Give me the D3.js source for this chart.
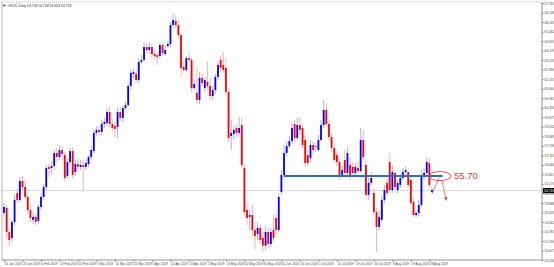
<!DOCTYPE html>
<html>
<head>
<meta charset="utf-8">
<script src="https://cdn.jsdelivr.net/npm/d3@7"></script>
<style>
  html, body { margin: 0; padding: 0; background: #fff; }
  svg { display: block; font-family: "Liberation Sans", Arial, sans-serif; }
</style>
</head>
<body>
<svg id="chart" width="554" height="267"></svg>
<script>
// USOIL daily candles, [open, high, low, close]
const candles = [
  [53.21,53.89,53.00,53.62],[53.55,53.75,51.52,51.92],[51.92,52.20,50.97,51.38],[51.52,52.74,51.24,52.60],
  [52.60,54.42,52.40,54.09],[54.56,54.90,53.89,54.09],[54.09,55.64,53.89,55.37],[55.37,55.71,54.76,54.96],
  [54.96,55.44,54.09,54.29],[54.29,54.56,53.14,53.41],[53.41,53.75,52.60,52.87],[52.74,53.27,52.47,52.94],
  [52.94,53.14,52.33,52.60],[52.67,53.82,52.47,53.62],[53.62,54.49,53.41,54.29],[54.29,55.17,54.09,54.96],
  [54.96,56.45,54.76,56.25],[56.32,56.52,55.64,56.18],[56.25,56.65,55.84,56.38],[56.38,57.46,56.11,57.26],
  [57.26,57.60,56.65,56.99],[56.99,57.80,56.79,57.46],[57.46,57.73,56.79,57.19],[57.12,57.33,55.37,55.57],
  [55.71,56.92,55.51,56.65],[56.65,57.60,56.45,57.39],[57.39,57.67,55.57,55.78],[55.98,56.79,55.71,56.52],
  [56.52,56.92,55.98,56.32],[56.32,56.79,56.11,56.45],[56.45,56.79,54.69,56.32],[56.32,56.86,56.11,56.58],
  [56.52,57.12,56.32,56.99],[56.99,57.73,56.79,57.46],[57.39,58.82,57.26,58.62],[58.62,59.09,58.41,58.82],
  [58.82,59.15,58.48,58.68],[58.68,59.49,58.48,59.22],[59.22,59.63,58.95,59.36],[59.29,60.30,59.09,60.03],
  [60.03,60.43,58.95,59.22],[59.22,59.49,58.68,58.95],[59.09,59.36,58.28,58.88],[59.02,60.30,58.28,60.03],
  [60.03,60.37,59.42,59.63],[59.63,60.50,59.36,60.30],[60.30,60.70,60.17,60.50],[60.50,61.99,60.37,61.79],
  [61.79,62.87,61.52,62.67],[62.60,62.94,62.33,62.73],[62.60,62.87,61.99,62.19],[62.19,63.68,61.92,63.41],
  [63.41,63.88,63.28,63.55],[63.55,64.69,63.41,64.42],[64.42,64.69,64.02,64.22],[64.22,64.76,63.95,64.42],
  [64.42,64.63,63.68,63.95],[63.95,64.22,63.55,63.82],[63.88,64.09,63.21,63.75],[63.82,64.69,63.68,64.56],
  [64.56,64.69,63.82,64.02],[63.95,64.49,63.82,64.22],[64.49,64.83,64.36,64.63],[64.63,66.11,64.42,65.91],
  [65.91,66.72,65.77,66.25],[66.18,66.58,65.71,65.91],[65.91,66.25,65.03,65.23],[65.23,65.37,62.40,63.01],
  [63.08,63.41,62.67,62.87],[62.87,63.82,62.73,63.68],[63.68,64.09,63.41,63.55],[63.55,63.68,61.38,61.65],
  [61.65,62.19,61.52,61.92],[61.32,63.01,60.57,60.84],[60.84,62.74,60.57,62.33],[62.33,62.60,61.79,61.99],
  [61.65,62.40,61.38,62.19],[62.06,63.41,61.52,61.79],[61.79,62.33,60.84,61.11],[61.11,61.79,60.84,61.52],
  [61.52,62.60,61.25,62.40],[62.40,63.41,62.19,63.21],[63.55,63.88,62.73,63.01],[63.21,64.09,62.67,62.87],
  [63.01,63.68,61.18,61.38],[61.38,61.65,58.01,58.28],[58.41,59.49,57.46,58.62],[58.55,59.09,58.14,58.82],
  [58.95,59.15,58.34,58.62],[58.62,59.69,58.41,58.95],[59.15,59.69,56.25,56.45],[56.25,56.45,53.00,53.27],
  [53.41,53.75,52.40,52.87],[52.94,53.41,52.06,53.07],[53.07,53.75,51.65,52.06],[52.06,52.40,50.71,51.65],
  [51.79,52.60,51.38,52.20],[52.20,52.47,51.11,51.38],[51.52,51.92,50.57,51.00],[51.00,52.33,50.71,51.92],
  [51.92,52.20,50.84,51.11],[51.11,52.20,50.91,51.92],[52.06,53.07,51.24,51.52],[52.87,53.14,51.79,52.06],
  [52.06,54.49,51.92,54.29],[54.63,56.11,54.43,55.78],[55.78,57.80,55.57,57.26],[57.26,58.07,57.06,57.73],
  [57.73,58.41,57.60,58.07],[58.07,59.36,57.87,58.95],[59.22,59.49,58.01,58.28],[58.28,59.63,58.14,59.15],
  [59.15,59.69,58.48,58.82],[58.95,59.22,57.60,57.80],[58.14,58.48,56.32,56.58],[57.12,57.46,56.38,56.58],
  [56.92,58.14,56.65,57.80],[57.80,58.01,57.19,57.46],[57.73,57.94,57.33,57.67],[57.46,58.48,57.33,58.14],
  [58.14,59.49,58.01,59.15],[59.15,60.84,58.95,60.17],[60.17,60.64,59.02,59.22],[59.22,59.49,58.14,58.34],
  [58.34,58.62,57.33,57.60],[57.60,57.80,56.58,56.79],[57.12,57.46,56.38,56.65],[56.65,56.92,55.44,55.78],
  [55.78,56.38,55.57,56.11],[56.79,57.46,55.71,55.91],[55.91,57.67,55.71,57.26],[56.45,56.92,55.44,55.78],
  [56.32,56.65,55.57,55.91],[55.91,56.58,55.71,56.32],[56.25,56.65,55.84,56.04],[56.04,58.95,55.91,58.14],
  [58.14,58.82,56.79,56.99],[56.45,56.79,54.22,54.43],[54.43,55.57,54.09,55.24],[55.24,55.98,55.04,55.57],
  [54.56,54.90,53.07,53.27],[53.27,53.55,50.57,52.26],[52.26,53.41,52.06,52.94],[52.74,54.43,52.60,54.09],
  [54.09,55.10,53.89,54.76],[55.24,55.57,54.36,54.56],[56.65,57.26,54.56,54.76],[54.76,56.45,54.56,55.98],
  [55.91,56.11,54.76,54.96],[54.76,55.44,54.56,55.24],[55.10,55.84,54.90,55.57],[55.57,56.25,55.44,55.98],
  [55.98,56.38,55.84,56.11],[55.98,56.25,54.90,55.10],[55.44,55.71,53.75,53.89],[53.95,54.22,52.94,53.07],
  [53.07,53.41,52.94,53.21],[53.21,54.09,53.00,53.75],[53.75,56.11,53.62,55.64],[55.64,56.25,55.44,55.91],
  [55.91,56.99,55.78,56.65],[56.58,56.92,54.90,55.10],[54.63,54.90,54.56,54.76]
];

const dateLabels = [
  '15 Jan 2019','24 Jan 2019','4 Feb 2019','13 Feb 2019','22 Feb 2019','5 Mar 2019',
  '14 Mar 2019','25 Mar 2019','3 Apr 2019','12 Apr 2019','23 Apr 2019','2 May 2019',
  '13 May 2019','22 May 2019','31 May 2019','11 Jun 2019','20 Jun 2019','1 Jul 2019',
  '10 Jul 2019','19 Jul 2019','30 Jul 2019','8 Aug 2019','19 Aug 2019','28 Aug 2019'
];
const dateEvery = 7;

const priceTicks = [
  50.030,50.673,51.316,51.959,52.602,53.245,53.888,54.531,55.174,55.817,56.460,57.103,57.746,58.389,
  59.032,59.675,60.318,60.961,61.604,62.247,62.890,63.533,64.176,64.819,65.462,66.105,66.748,67.391
];

const bidPrice = 54.718;
const header = 'USOIL,Daily  54.708 54.768 54.603 54.718';
const levelPrice = 55.70;
const levelFrom = 106;      // bar index where the drawn level starts
const levelTo = 166;
const markIdx = 165;        // ellipse centre (bar index)

const svg = d3.select('#chart');
const plotL = 2, plotR = 542, plotT = 2, plotB = 260;

const x = d3.scaleLinear().domain([0, candles.length - 1]).range([4, 432]);
const y = d3.scaleLinear().domain([50.03, 67.6]).range([plotB, 0]);

// frame
svg.append('line').attr('x1', plotL).attr('x2', plotR).attr('y1', plotT).attr('y2', plotT)
  .attr('stroke', '#999').attr('stroke-width', 0.7).attr('stroke-dasharray', '1,1');
svg.append('line').attr('x1', plotL).attr('x2', plotL).attr('y1', plotT).attr('y2', plotB)
  .attr('stroke', '#999').attr('stroke-width', 0.7);

// bid line
svg.append('line').attr('x1', plotL).attr('x2', plotR).attr('y1', y(bidPrice)).attr('y2', y(bidPrice))
  .attr('stroke', '#c8c8c8').attr('stroke-width', 0.7);

// axes
const yAxis = svg.append('g').attr('transform', `translate(${plotR},0)`)
  .call(d3.axisRight(y).tickValues(priceTicks).tickSize(1.5).tickPadding(1).tickFormat(d3.format('.3f')));
yAxis.select('.domain').attr('stroke', '#777').attr('stroke-width', 0.8).attr('d', `M0,${plotT}V${plotB}`);
yAxis.selectAll('text').attr('font-size', 3.4).attr('fill', '#444');
yAxis.selectAll('.tick line').attr('stroke', '#777');

const xAxis = svg.append('g').attr('transform', `translate(0,${plotB})`)
  .call(d3.axisBottom(x).tickValues(dateLabels.map((d, i) => i * dateEvery))
    .tickSize(1.5).tickPadding(0.8).tickFormat((d, i) => dateLabels[i]));
xAxis.select('.domain').attr('stroke', '#777').attr('stroke-width', 0.8).attr('d', `M${plotL},0H${plotR}`);
xAxis.selectAll('text').attr('font-size', 3.2).attr('fill', '#444').attr('text-anchor', 'start');
xAxis.selectAll('.tick line').attr('stroke', '#777');

// candles
const g = svg.append('g');
const colour = d => d[3] >= d[0] ? '#0000ff' : '#ff0000';
const wick = d => d[3] >= d[0] ? '#9a9af5' : '#f5a0a0';
g.selectAll('line.wick').data(candles).join('line').attr('class', 'wick')
  .attr('x1', (d, i) => x(i)).attr('x2', (d, i) => x(i))
  .attr('y1', d => y(d[1])).attr('y2', d => y(d[2]))
  .attr('stroke', wick).attr('stroke-width', 0.8);
g.selectAll('rect.body').data(candles).join('rect').attr('class', 'body')
  .attr('x', (d, i) => x(i) - 0.9).attr('width', 1.8)
  .attr('y', d => y(Math.max(d[0], d[3])))
  .attr('height', d => Math.max(0.8, Math.abs(y(d[0]) - y(d[3]))))
  .attr('fill', colour);

// header
svg.append('path').attr('d', 'M3.5,4.2 L6,5.5 L3.5,6.8 Z').attr('fill', '#333');
svg.append('text').attr('x', 7.5).attr('y', 6.8).attr('font-size', 3.4).attr('fill', '#333').text(header);

// current price tag
svg.append('rect').attr('x', plotR + 1).attr('y', y(bidPrice) - 2.6).attr('width', 12).attr('height', 5.2).attr('fill', '#000');
svg.append('text').attr('x', plotR + 2).attr('y', y(bidPrice) + 1.2).attr('font-size', 3.4).attr('fill', '#fff')
  .text(d3.format('.3f')(bidPrice));

// drawn support level + annotation
svg.append('line').attr('x1', x(levelFrom)).attr('x2', x(levelTo))
  .attr('y1', y(levelPrice)).attr('y2', y(levelPrice))
  .attr('stroke', '#2e6db8').attr('stroke-width', 2);
const cx = x(markIdx), cy = y(levelPrice);
svg.append('ellipse').attr('cx', cx).attr('cy', cy).attr('rx', 11).attr('ry', 4.5)
  .attr('fill', 'none').attr('stroke', '#e8383c').attr('stroke-width', 0.9);
svg.append('text').attr('x', cx + 14).attr('y', cy + 3.4).attr('font-size', 9.5)
  .attr('fill', '#e8383c').text(levelPrice.toFixed(2));
svg.append('line').attr('x1', cx - 1).attr('y1', cy + 2).attr('x2', x(candles.length - 1)).attr('y2', y(candles[candles.length - 1][2]) + 1)
  .attr('stroke', '#e8383c').attr('stroke-width', 0.7);
svg.append('line').attr('x1', cx + 2).attr('y1', cy + 4).attr('x2', cx + 6).attr('y2', cy + 23)
  .attr('stroke', '#e8383c').attr('stroke-width', 0.7);
svg.append('path').attr('d', `M${cx + 4.2},${cy + 21.5} L${cx + 6.3},${cy + 25} L${cx + 7.4},${cy + 21}Z`)
  .attr('fill', '#e8383c');
</script>
</body>
</html>
